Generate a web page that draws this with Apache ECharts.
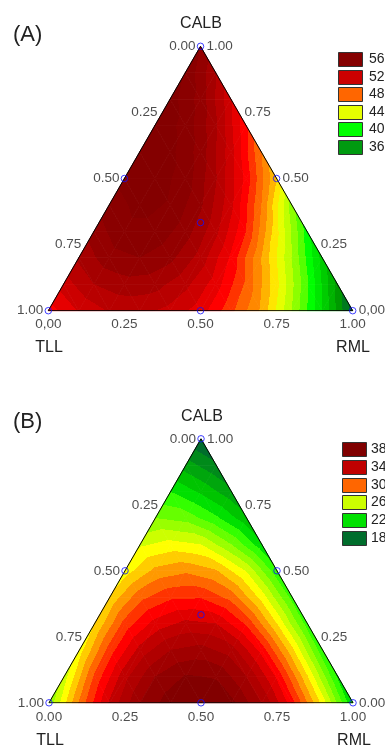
<!DOCTYPE html>
<html><head><meta charset="utf-8">
<script src="https://cdn.jsdelivr.net/npm/echarts@6/dist/echarts.min.js"></script>
<style>html,body{margin:0;padding:0;background:#fff}#c{width:385px;height:747px}</style>
</head><body><div id="c"></div>
<script>
// Ternary grid, row i => CALB = 1 - i/10 ; entry j => RML = j/10 ; TLL = rest
const valuesA = [
 [56.0],
 [56.9,54.1],
 [57.5,55.6,52.2],
 [57.7,56.7,54.2,50.2],
 [57.6,57.3,55.6,52.4,48.0],
 [57.3,57.5,56.6,54.1,50.6,46.0],
 [56.5,57.3,56.9,55.2,52.3,48.0,42.5],
 [55.5,56.7,56.7,55.5,53.3,50.0,45.3,40.5],
 [54.2,55.6,56.0,55.3,53.6,50.8,47.0,43.0,38.6],
 [52.5,54.0,54.6,54.4,53.3,51.5,48.8,45.3,41.2,36.6],
 [50.5,52.1,53.1,53.3,52.7,51.5,49.3,46.8,43.0,39.0,34.5]
];
const valuesB = [
 [18.0],
 [20.5,19.2],
 [23.0,21.8,20.3],
 [25.0,24.6,23.2,21.3],
 [26.8,27.4,27.0,25.0,22.3],
 [27.5,29.3,29.8,29.1,26.9,23.3],
 [28.2,30.7,31.8,31.9,30.6,27.6,23.6],
 [28.0,31.4,33.4,34.3,34.0,31.8,28.0,23.5],
 [27.5,31.5,34.4,36.0,36.4,35.5,32.6,28.3,23.2],
 [26.5,31.2,34.7,37.0,38.1,37.9,36.0,32.8,28.1,22.8],
 [25.2,30.2,34.2,37.0,38.6,38.9,38.3,36.0,32.4,27.6,22.0]
];
const tickFractions = [0, 0.25, 0.5, 0.75, 1];
const leftTicksA = ['0.00','0.25','0.50','0.75','1.00'];
const rightTicksA = ['0,00','0.25','0.50','0.75','1.00'];
const bottomTicksA = ['0,00','0.25','0.50','0.75','1.00'];
const leftTicksB = ['0.00','0.25','0.50','0.75','1.00'];
const rightTicksB = ['0.00','0.25','0.50','0.75','1.00'];
const bottomTicksB = ['0.00','0.25','0.50','0.75','1.00'];
// design points [TLL, RML, CALB]
const designPoints = [[1,0,0],[0,1,0],[0,0,1],[0.5,0.5,0],[0.5,0,0.5],[0,0.5,0.5],[1/3,1/3,1/3]];
const legendA = [56,52,48,44,40,36];
const legendB = [38,34,30,26,22,18];

const legendColorsA = ['#850000','#cc0000','#ff6600','#e6ff00','#00ff00','#009a10'];
const legendColorsB = ['#800000','#c00000','#ff6600','#ccff00','#00e000','#006d2c'];
const bandsA = {33:'#004d33',34:'#005e2e',35:'#007a1e',36:'#009900',37:'#00b300',38:'#00cc00',39:'#00e600',40:'#00ff00',41:'#55ff00',42:'#8cff00',43:'#bfff00',44:'#e6ff00',45:'#ffe600',46:'#ffb300',47:'#ff8800',48:'#ff6600',49:'#ff3300',50:'#ff0000',51:'#e60000',52:'#cc0000',53:'#b80000',54:'#a50000',55:'#940000',56:'#8a0000',57:'#840000',58:'#7e0000'};
const bandsB = {16:'#004d33',17:'#005c30',18:'#006d2c',19:'#008a1a',20:'#00a60d',21:'#00c400',22:'#00e000',23:'#33ff00',24:'#66ff00',25:'#99ff00',26:'#ccff00',27:'#ffff00',28:'#ffcc00',29:'#ff9900',30:'#ff6600',31:'#ff3300',32:'#ff0000',33:'#e00000',34:'#c00000',35:'#b00000',36:'#a00000',37:'#900000',38:'#820000',39:'#7a0000'};

const H = Math.sqrt(3)/2;
function tern(tll, rml, calb){ return [rml + calb/2, calb*H]; }
function bandFn(map){
  const keys = Object.keys(map).map(Number).sort((a,b)=>a-b);
  return k => map[Math.max(keys[0], Math.min(keys[keys.length-1], k))];
}
function buildCells(rows){
  const n = rows.length - 1, cells = [];
  const pt = (i,j) => { const c = 1 - i/n, b = j/n, a = 1 - c - b; const p = tern(a,b,c); return [p[0], p[1], rows[i][j]]; };
  for (let i=0;i<n;i++) for (let j=0;j<=i;j++){
    cells.push([...pt(i,j), ...pt(i+1,j), ...pt(i+1,j+1)]);
    if (j<i) cells.push([...pt(i,j), ...pt(i,j+1), ...pt(i+1,j+1)]);
  }
  return cells;
}
function makeFill(pts, vals, band){
  const vmin = Math.min(...vals), vmax = Math.max(...vals);
  if (vmax - vmin < 1e-6) return band(Math.floor(vmin));
  const [p1,p2,p3] = pts, [v1,v2,v3] = vals;
  const dx2=p2[0]-p1[0], dy2=p2[1]-p1[1], dv2=v2-v1, dx3=p3[0]-p1[0], dy3=p3[1]-p1[1], dv3=v3-v1;
  const det = dx2*dy3 - dx3*dy2;
  const A = (dv2*dy3 - dv3*dy2)/det, B = (dx2*dv3 - dx3*dv2)/det;
  const g2 = A*A + B*B, span = vmax - vmin;
  const S = pts[vals.indexOf(vmin)];
  const E = [S[0] + A*span/g2, S[1] + B*span/g2];
  const k0 = Math.floor(vmin), k1 = Math.floor(vmax - 1e-9);
  const stops = [{offset:0, color:band(k0)}];
  for (let k=k0+1;k<=k1;k++){ const off=(k-vmin)/span; stops.push({offset:off,color:band(k-1)},{offset:off,color:band(k)}); }
  stops.push({offset:1, color:band(k1)});
  return {type:'linear', x:S[0], y:S[1], x2:E[0], y2:E[1], colorStops:stops, global:true};
}
function cellSeries(rows, bands, idx){
  const band = bandFn(bands);
  return {
    type:'custom', xAxisIndex:idx, yAxisIndex:idx, silent:true, z:1,
    data: buildCells(rows),
    renderItem: (params, api) => {
      const pts = [0,3,6].map(o => api.coord([api.value(o), api.value(o+1)]));
      const vals = [api.value(2), api.value(5), api.value(8)];
      const fill = makeFill(pts, vals, band);
      return {type:'polygon', shape:{points:pts}, style:{fill:fill, stroke:fill, lineWidth:0.8}};
    }
  };
}
const tickFont = {fontFamily:'Liberation Sans, Arial, sans-serif', fontSize:13.5, color:'#222'};
function labelSeries(idx, data, position, distance){
  return {type:'scatter', xAxisIndex:idx, yAxisIndex:idx, symbolSize:0, silent:true, z:5,
    data: data, label:Object.assign({show:true, position:position, distance:distance, formatter:'{b}'}, tickFont)};
}
function chartSeries(rows, bands, idx, leftT, rightT, bottomT){
  const verts = [tern(1,0,0), tern(0,1,0), tern(0,0,1), tern(1,0,0)];
  return [
    cellSeries(rows, bands, idx),
    {type:'line', xAxisIndex:idx, yAxisIndex:idx, data:verts, symbol:'none', silent:true, z:3,
      lineStyle:{color:'#000', width:1}},
    {type:'scatter', xAxisIndex:idx, yAxisIndex:idx, silent:true, z:4, symbol:'circle', symbolSize:6.5,
      data: designPoints.map(d => tern(d[0],d[1],d[2])),
      itemStyle:{color:'rgba(0,0,0,0)', borderColor:'#1010ff', borderWidth:1}},
    // left edge: TLL fraction
    labelSeries(idx, tickFractions.map((t,k)=>({name:leftT[k], value:tern(t,0,1-t)})), 'left', 5),
    // right edge: CALB fraction
    labelSeries(idx, tickFractions.map((t,k)=>({name:rightT[k], value:tern(0,1-t,t)})), 'right', 6),
    // bottom edge: RML fraction
    labelSeries(idx, tickFractions.map((t,k)=>({name:bottomT[k], value:tern(1-t,t,0)})), 'bottom', 7)
  ];
}
function legendGraphics(values, colors, x0, y0, step, tx){
  const g = [];
  values.forEach((v,k) => {
    const y = y0 + k*step;
    g.push({type:'rect', shape:{x:x0+0.5, y:Math.round(y)+0.5, width:24, height:14}, style:{fill:colors[k], stroke:'#333', lineWidth:1}});
    g.push({type:'text', x:tx, y:Math.round(y)+7.5, style:{text:String(v), fill:'#222', font:'14px "Liberation Sans", Arial, sans-serif', textVerticalAlign:'middle'}});
  });
  return g;
}
function txt(text, x, y, size, align){
  return {type:'text', x:x, y:y, style:{text:text, fill:'#222', font:size+'px "Liberation Sans", Arial, sans-serif', textAlign:align||'center', textVerticalAlign:'middle'}};
}
const chart = echarts.init(document.getElementById('c'), null, {renderer:'canvas'});
chart.setOption({
  animation:false,
  backgroundColor:'#fff',
  grid:[
    {left:48.3, top:46.3, width:304.4, height:264.4},
    {left:49, top:438.8, width:304, height:264}
  ],
  xAxis:[{gridIndex:0,type:'value',min:0,max:1,show:false},{gridIndex:1,type:'value',min:0,max:1,show:false}],
  yAxis:[{gridIndex:0,type:'value',min:0,max:H,show:false},{gridIndex:1,type:'value',min:0,max:H,show:false}],
  series:[
    ...chartSeries(valuesA, bandsA, 0, leftTicksA, rightTicksA, bottomTicksA),
    ...chartSeries(valuesB, bandsB, 1, leftTicksB, rightTicksB, bottomTicksB)
  ],
  graphic:[
    txt('(A)', 13, 35, 22, 'left'),
    txt('CALB', 201, 24, 16),
    txt('TLL', 49, 348, 16),
    txt('RML', 353, 348, 16),
    txt('(B)', 13, 422, 22, 'left'),
    txt('CALB', 202, 417, 16),
    txt('TLL', 50, 741, 16),
    txt('RML', 354, 741, 16),
    ...legendGraphics(legendA, legendColorsA, 338, 52, 17.6, 369),
    ...legendGraphics(legendB, legendColorsB, 342, 442, 17.8, 371)
  ]
});
</script></body></html>
